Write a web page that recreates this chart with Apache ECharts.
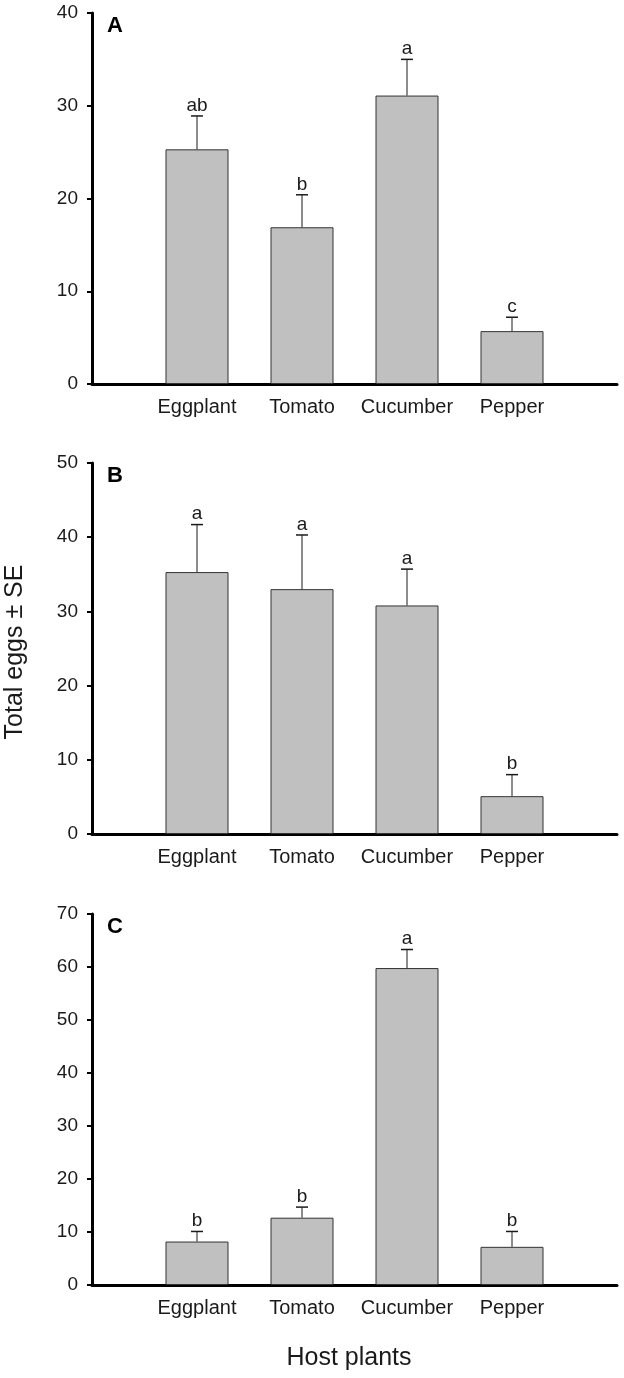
<!DOCTYPE html>
<html>
<head>
<meta charset="utf-8">
<script src="https://cdn.jsdelivr.net/npm/echarts@6/dist/echarts.min.js"></script>
<style>
html, body { margin: 0; padding: 0; background: #fff; }
#chart { width: 624px; height: 1378px; }
</style>
</head>
<body>
<div id="chart"></div>
<script>
const plants = ['Eggplant', 'Tomato', 'Cucumber', 'Pepper'];

// panel A
const meanA = [25.3, 16.9, 31.1, 5.7];
const seA = [3.6, 3.5, 3.9, 1.5];
const lettersA = ['ab', 'b', 'a', 'c'];
// panel B
const meanB = [35.3, 33.0, 30.8, 5.1];
const seB = [6.4, 7.3, 4.9, 2.9];
const lettersB = ['a', 'a', 'a', 'b'];
// panel C
const meanC = [8.2, 12.7, 59.8, 7.2];
const seC = [1.9, 2.0, 3.5, 2.9];
const lettersC = ['b', 'b', 'a', 'b'];

const panelNames = ['A', 'B', 'C'];
const yMax = [40, 50, 70];
const yStep = 10;

const FONT = 'Liberation Sans, Arial, sans-serif';
const INK = '#1a1a1a';

const panels = [
    { mean: meanA, se: seA, letters: lettersA },
    { mean: meanB, se: seB, letters: lettersB },
    { mean: meanC, se: seC, letters: lettersC }
];
const gridTops = [13, 463, 914];
const gridHeight = 371;

// empty slot at each end so the bars sit one step in from the axis ends
const axisCats = [''].concat(plants, ['']);

function errRenderer(letters) {
    return function (params, api) {
        const i = api.value(0);
        const m = api.value(1);
        const e = api.value(2);
        const base = api.coord([i, m]);
        const top = api.coord([i, m + e]);
        return {
            type: 'group',
            children: [
                { type: 'line', shape: { x1: base[0], y1: base[1], x2: top[0], y2: top[1] },
                  style: { stroke: INK, lineWidth: 1 } },
                { type: 'line', shape: { x1: top[0] - 6, y1: top[1], x2: top[0] + 6, y2: top[1] },
                  style: { stroke: INK, lineWidth: 1.5 } },
                { type: 'text', x: top[0], y: top[1] - 1,
                  style: { text: letters[params.dataIndex], fill: INK, font: '19px ' + FONT,
                           align: 'center', verticalAlign: 'bottom' } }
            ]
        };
    };
}

const grid = [], xAxis = [], yAxis = [], series = [], graphic = [];

panels.forEach((p, k) => {
    grid.push({ left: 92, right: 7, top: gridTops[k], height: gridHeight });
    xAxis.push({
        gridIndex: k,
        type: 'category',
        data: axisCats,
        boundaryGap: false,
        axisLine: { lineStyle: { color: '#000', width: 3 } },
        axisTick: { show: false },
        axisLabel: { interval: 0, fontSize: 20, color: INK, margin: 13, fontFamily: FONT },
        splitLine: { show: false }
    });
    yAxis.push({
        gridIndex: k,
        type: 'value',
        min: 0,
        max: yMax[k],
        interval: yStep,
        axisLine: { show: true, lineStyle: { color: '#000', width: 3 } },
        axisTick: { show: true, length: 5, lineStyle: { color: '#000', width: 2 } },
        axisLabel: { fontSize: 19, color: INK, margin: 14, fontFamily: FONT },
        splitLine: { show: false }
    });
    series.push({
        type: 'bar',
        xAxisIndex: k,
        yAxisIndex: k,
        barWidth: '60%',
        data: ['-'].concat(p.mean, ['-']),
        itemStyle: { color: '#c0c0c0', borderColor: '#333', borderWidth: 1 },
        silent: true
    });
    series.push({
        type: 'custom',
        xAxisIndex: k,
        yAxisIndex: k,
        renderItem: errRenderer(p.letters),
        data: p.mean.map((m, i) => [i + 1, m, p.se[i]]),
        z: 5,
        silent: true
    });
    graphic.push({
        type: 'text',
        left: 107,
        top: gridTops[k] + 2,
        style: { text: panelNames[k], font: 'bold 22px ' + FONT, fill: '#000' }
    });
});

graphic.push({
    type: 'text',
    x: 15,
    y: 652,
    rotation: Math.PI / 2,
    style: { text: 'Total eggs \u00b1 SE', font: '25px ' + FONT, fill: INK,
             align: 'center', verticalAlign: 'middle' }
});
graphic.push({
    type: 'text',
    x: 349,
    y: 1358,
    style: { text: 'Host plants', font: '25px ' + FONT, fill: INK,
             align: 'center', verticalAlign: 'middle' }
});

const myChart = echarts.init(document.getElementById('chart'));
myChart.setOption({
    animation: false,
    backgroundColor: '#fff',
    grid,
    xAxis,
    yAxis,
    series,
    graphic
});
</script>
</body>
</html>
